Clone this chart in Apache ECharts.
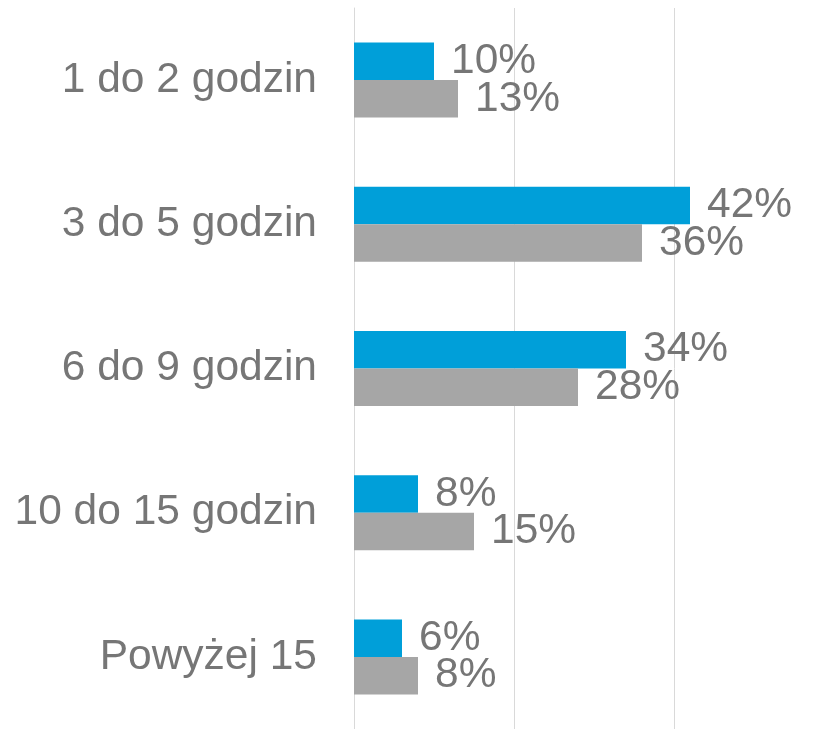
<!DOCTYPE html>
<html>
<head>
<meta charset="utf-8">
<script src="https://cdn.jsdelivr.net/npm/echarts@6/dist/echarts.min.js"></script>
<style>
    html, body { margin: 0; padding: 0; background: #fff; }
    #chart { width: 827px; height: 729px; }
</style>
</head>
<body>
<div id="chart"></div>
<script>
    // dane z wykresu
    const categories = ['1 do 2 godzin', '3 do 5 godzin', '6 do 9 godzin', '10 do 15 godzin', 'Powyżej 15'];
    const blueValues = [10, 42, 34, 8, 6];
    const grayValues = [13, 36, 28, 15, 8];

    const chart = echarts.init(document.getElementById('chart'));
    const labelStyle = {
        show: true,
        position: 'right',
        distance: 17,
        color: '#767676',
        fontFamily: 'Liberation Sans, Arial, sans-serif',
        fontSize: 42.5,
        formatter: '{c}%'
    };
    const option = {
        animation: false,
        grid: { left: 354, right: 73, top: 8, height: 725 },
        xAxis: {
            type: 'value',
            min: 0,
            max: 50,
            interval: 20,
            axisLabel: { show: false },
            axisLine: { show: false },
            axisTick: { show: false },
            splitLine: { show: true, showMaxLine: false, lineStyle: { color: '#d9d9d9', width: 1 } }
        },
        yAxis: {
            type: 'category',
            inverse: true,
            data: categories,
            axisLine: { show: true, lineStyle: { color: '#d9d9d9', width: 1 } },
            axisTick: { show: false },
            axisLabel: {
                margin: 37,
                color: '#767676',
                fontFamily: 'Liberation Sans, Arial, sans-serif',
                fontSize: 42.5
            }
        },
        series: [
            {
                name: 'A',
                type: 'bar',
                data: blueValues,
                barWidth: 37.5,
                barGap: '0%',
                itemStyle: { color: '#009FD9' },
                label: labelStyle
            },
            {
                name: 'B',
                type: 'bar',
                data: grayValues,
                barWidth: 37.5,
                barGap: '0%',
                itemStyle: { color: '#A6A6A6' },
                label: labelStyle
            }
        ]
    };
    chart.setOption(option);
</script>
</body>
</html>
